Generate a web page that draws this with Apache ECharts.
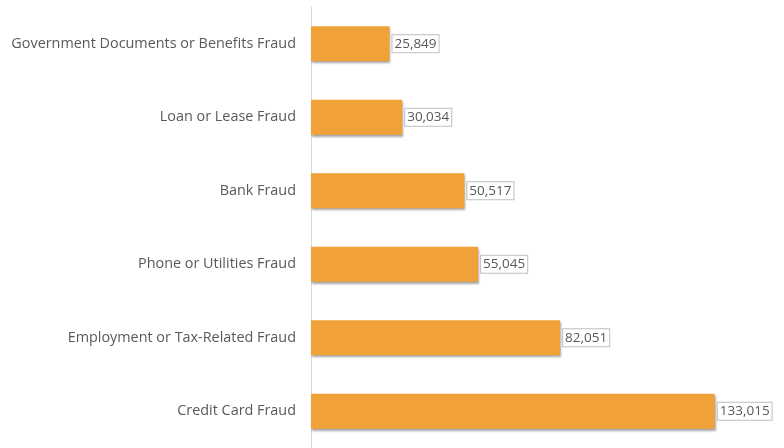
<!DOCTYPE html>
<html>
<head>
<meta charset="utf-8">
<script src="https://cdn.jsdelivr.net/npm/echarts@6/dist/echarts.min.js"></script>
<style>
  html, body { margin: 0; padding: 0; background: #fff; }
  #main { width: 784px; height: 448px; }
</style>
</head>
<body>
<div id="main"></div>
<script>
// categories top to bottom
var categories = [
    'Government Documents or Benefits Fraud',
    'Loan or Lease Fraud',
    'Bank Fraud',
    'Phone or Utilities Fraud',
    'Employment or Tax-Related Fraud',
    'Credit Card Fraud'
];
var reports = [25849, 30034, 50517, 55045, 82051, 133015];

var myChart = echarts.init(document.getElementById('main'));
var option = {
    animation: false,
    grid: {
        left: 311,
        width: 425,
        top: 7,
        height: 447
    },
    xAxis: {
        type: 'value',
        min: 0,
        max: 140000,
        show: false
    },
    yAxis: {
        type: 'category',
        inverse: true,
        data: categories,
        axisLine: { show: true, lineStyle: { color: '#d9d9d9', width: 1 } },
        axisTick: { show: false },
        axisLabel: {
            margin: 15,
            fontFamily: 'Open Sans',
            fontSize: 14.4,
            color: '#595959'
        }
    },
    series: [{
        type: 'bar',
        data: reports,
        barWidth: 35,
        itemStyle: {
            color: '#f0a137',
            shadowColor: 'rgba(0,0,0,0.35)',
            shadowBlur: 2,
            shadowOffsetX: 1,
            shadowOffsetY: 2
        },
        label: {
            show: true,
            position: 'right',
            distance: 3,
            fontFamily: 'Open Sans',
            fontSize: 13.5,
            color: '#595959',
            backgroundColor: '#fff',
            borderColor: '#bfbfbf',
            borderWidth: 1,
            padding: [2, 2, 1, 2],
            formatter: function (p) {
                return p.value.toLocaleString('en-US');
            }
        }
    }]
};
myChart.setOption(option);
</script>
</body>
</html>
